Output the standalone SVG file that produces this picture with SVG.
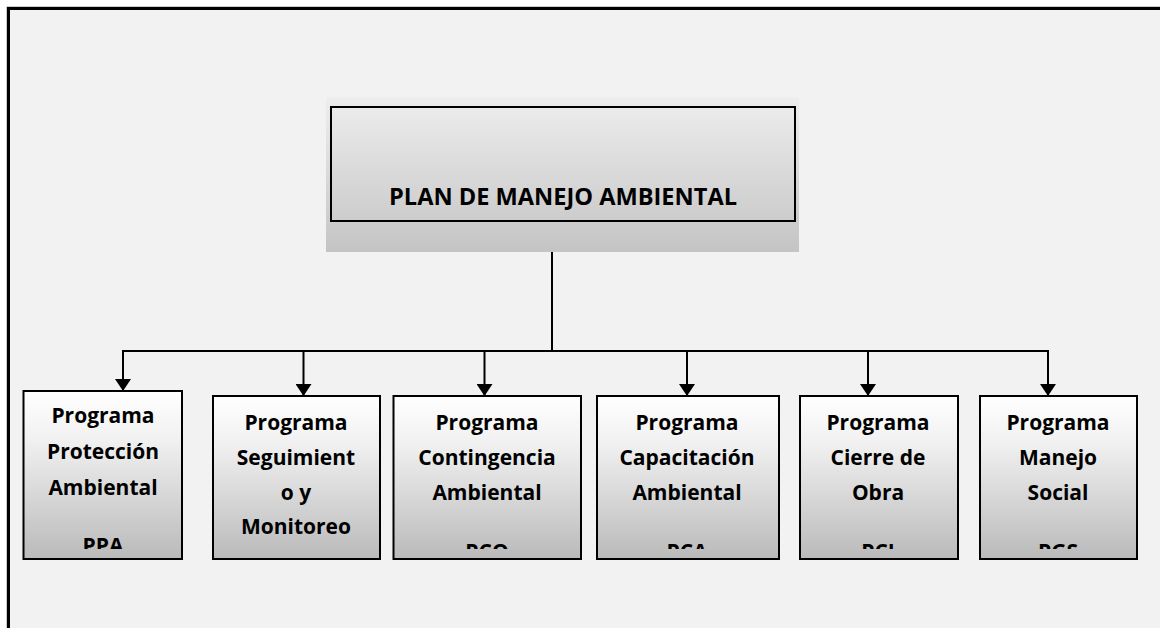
<svg xmlns="http://www.w3.org/2000/svg" width="1160" height="628" viewBox="0 0 1160 628">
<defs>
<linearGradient id="gBox" x1="0" y1="0" x2="0" y2="1">
<stop offset="0" stop-color="#ffffff"/>
<stop offset="0.3" stop-color="#f0f0f0"/>
<stop offset="1" stop-color="#bababa"/>
</linearGradient>
<linearGradient id="gTitle" x1="0" y1="0" x2="0" y2="1">
<stop offset="0" stop-color="#eeeeee"/>
<stop offset="1" stop-color="#c4c4c4"/>
</linearGradient>
<marker id="arr" viewBox="0 0 12 16" refX="12" refY="8" markerWidth="12" markerHeight="16" markerUnits="userSpaceOnUse" orient="auto">
<path d="M0,0 L12,8 L0,16 Z" fill="#000"/>
</marker>
<clipPath id="c1"><rect x="23" y="391" width="159" height="158"/></clipPath>
<clipPath id="c3"><rect x="393" y="396" width="188" height="153"/></clipPath>
<clipPath id="c4"><rect x="597" y="396" width="182" height="153"/></clipPath>
<clipPath id="c5"><rect x="800" y="396" width="158" height="153"/></clipPath>
<clipPath id="c6"><rect x="980" y="396" width="157" height="153"/></clipPath>
</defs>
<style>
.box{fill:url(#gBox);stroke:#000;stroke-width:2}
.t{font-family:"Open Sans","Liberation Sans",sans-serif;font-weight:bold;font-size:21px;fill:#000;text-anchor:middle}
.tt{font-family:"Open Sans","Liberation Sans",sans-serif;font-weight:bold;font-size:23.6px;fill:#000;text-anchor:middle}
.ln{fill:none;stroke:#000;stroke-width:2}
</style>
<rect x="0" y="0" width="1160" height="628" fill="#ffffff"/>
<rect x="7" y="7" width="1200" height="700" fill="#f2f2f2" stroke="#999" stroke-width="1"/>
<rect x="8.5" y="8.5" width="1200" height="700" fill="none" stroke="#000" stroke-width="3"/>

<g id="connectors">
<path class="ln" d="M552,252 V351"/>
<path class="ln" d="M123,351 H1048"/>
<path class="ln" d="M123,350 V391" marker-end="url(#arr)"/>
<path class="ln" d="M303.5,351 V396" marker-end="url(#arr)"/>
<path class="ln" d="M484.5,351 V396" marker-end="url(#arr)"/>
<path class="ln" d="M687,351 V396" marker-end="url(#arr)"/>
<path class="ln" d="M868,351 V396" marker-end="url(#arr)"/>
<path class="ln" d="M1048,350 V396" marker-end="url(#arr)"/>
</g>

<g id="plan">
<rect x="326" y="97" width="473" height="155" fill="url(#gTitle)"/>
<rect x="331" y="107" width="464" height="114" fill="none" stroke="#000" stroke-width="2"/>
<text class="tt" x="563" y="205">PLAN DE MANEJO AMBIENTAL</text>
</g>

<g id="ppa">
<rect class="box" x="23.5" y="391" width="158.5" height="168"/>
<g clip-path="url(#c1)">
<text class="t" x="103" y="423">Programa</text>
<text class="t" x="103" y="459">Protección</text>
<text class="t" x="103" y="495">Ambiental</text>
<text class="t" x="103" y="553">PPA</text>
</g>
</g>

<g id="psm">
<rect class="box" x="213" y="396" width="167" height="163"/>
<text class="t" x="296" y="430">Programa</text>
<text class="t" x="296" y="465">Seguimient</text>
<text class="t" x="296" y="500">o y</text>
<text class="t" x="296" y="534">Monitoreo</text>
</g>

<g id="pco">
<rect class="box" x="393.5" y="396" width="187.5" height="163"/>
<g clip-path="url(#c3)">
<text class="t" x="487" y="430">Programa</text>
<text class="t" x="487" y="465">Contingencia</text>
<text class="t" x="487" y="500">Ambiental</text>
<text class="t" x="487" y="559">PCO</text>
</g>
</g>

<g id="pca">
<rect class="box" x="597" y="396" width="182" height="163"/>
<g clip-path="url(#c4)">
<text class="t" x="687" y="430">Programa</text>
<text class="t" x="687" y="465">Capacitación</text>
<text class="t" x="687" y="500">Ambiental</text>
<text class="t" x="687" y="559">PCA</text>
</g>
</g>

<g id="pci">
<rect class="box" x="800" y="396" width="158" height="163"/>
<g clip-path="url(#c5)">
<text class="t" x="878" y="430">Programa</text>
<text class="t" x="878" y="465">Cierre de</text>
<text class="t" x="878" y="500">Obra</text>
<text class="t" x="878" y="559">PCI</text>
</g>
</g>

<g id="pms">
<rect class="box" x="980" y="396" width="157" height="163"/>
<g clip-path="url(#c6)">
<text class="t" x="1058" y="430">Programa</text>
<text class="t" x="1058" y="465">Manejo</text>
<text class="t" x="1058" y="500">Social</text>
<text class="t" x="1058" y="559">PGS</text>
</g>
</g>
</svg>
